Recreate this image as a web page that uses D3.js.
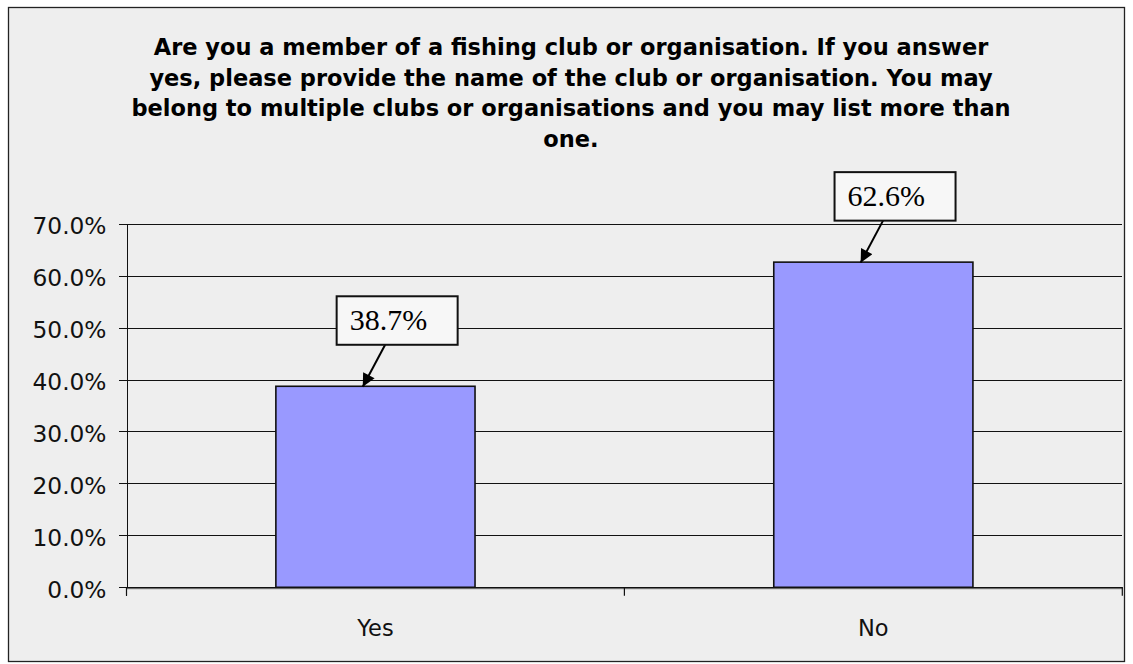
<!DOCTYPE html>
<html><head><meta charset="utf-8">
<script src="https://cdn.jsdelivr.net/npm/d3@7"></script>
<style>html,body{margin:0;padding:0;background:#fff;}svg{display:block;}</style>
</head><body>
<svg id="chart" width="1133" height="664"></svg>
<script>
const categories = ["Yes", "No"];
const values = [0.387, 0.626];
const labels = ["38.7%", "62.6%"];
const yTicks = [0, 0.1, 0.2, 0.3, 0.4, 0.5, 0.6, 0.7];
const titleLines = [
  "Are you a member of a fishing club or organisation. If you answer",
  "yes, please provide the name of the club or organisation. You may",
  "belong to multiple clubs or organisations and you may list more than",
  "one."
];

const svg = d3.select("#chart");
svg.append("rect").attr("x", 0).attr("y", 0).attr("width", 1133).attr("height", 664).attr("fill", "#ffffff");
svg.append("rect").attr("x", 8.5).attr("y", 7.5).attr("width", 1116).attr("height", 654)
  .attr("fill", "#eeeeee").attr("stroke", "#222").attr("stroke-width", 1.3);

const pLeft = 126.5, pRight = 1122.3, pTop = 223.7, pBottom = 587.3;
const x = d3.scaleBand().domain(categories).range([pLeft, pRight]).paddingInner(0.6).paddingOuter(0.3);
const xEdge = d3.scaleBand().domain(categories).range([pLeft, pRight]).padding(0);
const y = d3.scaleLinear().domain([0, 0.7]).range([pBottom, pTop]);

// title
const title = svg.append("text").attr("text-anchor", "middle")
  .attr("font-family", "DejaVu Sans, sans-serif").attr("font-weight", "bold")
  .attr("font-size", 22.5).attr("fill", "#000");
titleLines.forEach((t, i) => {
  title.append("tspan").attr("x", 571).attr("y", 55 + i * 30.5).text(t);
});

// gridlines
const grid = svg.append("g").attr("transform", `translate(${pLeft},0)`)
  .call(d3.axisLeft(y).tickValues(yTicks.slice(1)).tickSize(-(pRight - pLeft)).tickFormat(""));
grid.select(".domain").remove();
grid.selectAll(".tick line").attr("stroke", "#111").attr("stroke-width", 1).attr("shape-rendering", "crispEdges");

// y axis with labels
const yAxis = svg.append("g").attr("transform", `translate(${pLeft},0)`)
  .call(d3.axisLeft(y).tickValues(yTicks).tickSize(8).tickSizeOuter(0).tickPadding(12).tickFormat(d3.format(".1%")));
yAxis.select(".domain").attr("stroke", "#111").attr("shape-rendering", "crispEdges");
yAxis.selectAll(".tick line").attr("stroke", "#111").attr("shape-rendering", "crispEdges");
yAxis.selectAll(".tick text").attr("font-family", "DejaVu Sans, sans-serif").attr("font-size", 23.3)
  .attr("fill", "#111").attr("dy", "0.43em");
svg.append("line").attr("x1", pLeft).attr("x2", pLeft).attr("y1", y(0)).attr("y2", y(0) + 8.4)
  .attr("stroke", "#111").attr("shape-rendering", "crispEdges");

// bars
svg.append("g").selectAll("rect").data(values).join("rect")
  .attr("x", (d, i) => x(categories[i]))
  .attr("y", d => y(d))
  .attr("width", x.bandwidth())
  .attr("height", d => y(0) - y(d))
  .attr("fill", "#9999ff").attr("stroke", "#111").attr("stroke-width", 1.6);

// x axis
svg.append("line").attr("x1", pLeft).attr("x2", pRight).attr("y1", pBottom + 1.6).attr("y2", pBottom + 1.6)
  .attr("stroke", "#bbb").attr("stroke-width", 1.2);
const xAxis = svg.append("g").attr("transform", `translate(0,${pBottom})`)
  .call(d3.axisBottom(xEdge).tickValues([]).tickSizeOuter(0));
xAxis.select(".domain").attr("stroke", "#111").attr("stroke-width", 1.4);
const edges = [pLeft].concat(categories.map(c => xEdge(c) + xEdge.bandwidth()));
svg.append("g").selectAll("line").data(edges).join("line")
  .attr("x1", d => d).attr("x2", d => d).attr("y1", pBottom).attr("y2", pBottom + 8.4)
  .attr("stroke", "#111").attr("stroke-width", 1.2);
svg.append("g").selectAll("text").data(categories).join("text")
  .attr("x", d => x(d) + x.bandwidth() / 2).attr("y", 636)
  .attr("text-anchor", "middle").attr("font-family", "DejaVu Sans, sans-serif")
  .attr("font-size", 22.5).attr("fill", "#111").text(d => d);

// arrow marker
svg.append("defs").append("marker").attr("id", "arr").attr("viewBox", "0 0 10 10")
  .attr("refX", 10).attr("refY", 5).attr("markerWidth", 7).attr("markerHeight", 6.5)
  .attr("markerUnits", "strokeWidth").attr("orient", "auto")
  .append("path").attr("d", "M0,0 L10,5 L0,10 z").attr("fill", "#000");

// data labels
const lab = svg.append("g");
values.forEach((v, i) => {
  const cx = x(categories[i]) + x.bandwidth() / 2;
  const by = y(v);
  const bx = cx - 38.8, bTop = by - 90, bw = 121, bh = 48.5;
  lab.append("line").attr("x1", bx + 48.5).attr("y1", bTop + bh)
    .attr("x2", cx - 12.7).attr("y2", by + 0.5)
    .attr("stroke", "#000").attr("stroke-width", 2).attr("marker-end", "url(#arr)");
  lab.append("rect").attr("x", bx).attr("y", bTop).attr("width", bw).attr("height", bh)
    .attr("fill", "#f7f7f7").attr("stroke", "#111").attr("stroke-width", 2);
  lab.append("text").attr("x", bx + 13).attr("y", bTop + 34)
    .attr("font-family", "Liberation Serif, Times New Roman, serif").attr("font-size", 30)
    .attr("fill", "#000").text(labels[i]);
});
</script>
</body></html>
